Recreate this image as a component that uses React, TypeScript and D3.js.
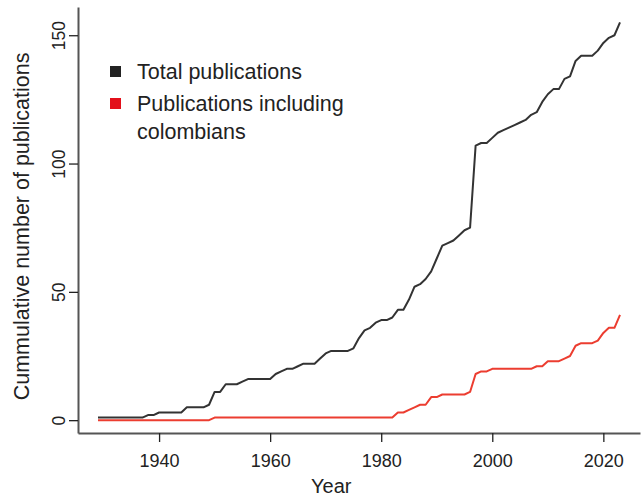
import React, { useEffect, useRef } from 'react';
import * as d3 from 'd3';

// yearly cumulative counts, 1929 to 2023
const years = d3.range(1929, 2024);

const totalPublications = [
  1, 1, 1, 1, 1, 1, 1, 1, 1, 2, // 1929-1938
  2, 3, 3, 3, 3, 3, 5, 5, 5, 5, // 1939-1948
  6, 11, 11, 14, 14, 14, 15, 16, 16, 16, // 1949-1958
  16, 16, 18, 19, 20, 20, 21, 22, 22, 22, // 1959-1968
  24, 26, 27, 27, 27, 27, 28, 32, 35, 36, // 1969-1978
  38, 39, 39, 40, 43, 43, 47, 52, 53, 55, // 1979-1988
  58, 63, 68, 69, 70, 72, 74, 75, 107, 108, // 1989-1998
  108, 110, 112, 113, 114, 115, 116, 117, 119, 120, // 1999-2008
  124, 127, 129, 129, 133, 134, 140, 142, 142, 142, // 2009-2018
  144, 147, 149, 150, 155, // 2019-2023
];

const colombianPublications = [
  0, 0, 0, 0, 0, 0, 0, 0, 0, 0, // 1929-1938
  0, 0, 0, 0, 0, 0, 0, 0, 0, 0, // 1939-1948
  0, 1, 1, 1, 1, 1, 1, 1, 1, 1, // 1949-1958
  1, 1, 1, 1, 1, 1, 1, 1, 1, 1, // 1959-1968
  1, 1, 1, 1, 1, 1, 1, 1, 1, 1, // 1969-1978
  1, 1, 1, 1, 3, 3, 4, 5, 6, 6, // 1979-1988
  9, 9, 10, 10, 10, 10, 10, 11, 18, 19, // 1989-1998
  19, 20, 20, 20, 20, 20, 20, 20, 20, 21, // 1999-2008
  21, 23, 23, 23, 24, 25, 29, 30, 30, 30, // 2009-2018
  31, 34, 36, 36, 41, // 2019-2023
];

const xTicks = [1940, 1960, 1980, 2000, 2020];
const yTicks = [0, 50, 100, 150];

const legendItems = [
  { lines: ['Total publications'], color: '#222222' },
  { lines: ['Publications including', 'colombians'], color: '#e3101b' },
];

const width = 644;
const height = 497;
const font = '"Liberation Sans", Arial, Helvetica, sans-serif';

const App = () => {
  const ref = useRef<SVGSVGElement>(null);

  useEffect(() => {
    const svg = d3.select(ref.current);
    svg.selectAll('*').remove();

    const x = d3.scaleLinear().domain([1925.4, 2026.6]).range([78, 640]);
    const y = d3.scaleLinear().domain([-5, 161]).range([433, 7]);

    // x axis
    const xAxis = svg.append('g')
      .attr('transform', 'translate(0,433)')
      .call(d3.axisBottom(x).tickValues(xTicks).tickFormat(d3.format('d')).tickSize(9).tickSizeOuter(0).tickPadding(12));
    xAxis.select('.domain').attr('stroke', '#555').attr('stroke-width', 2);
    xAxis.selectAll('.tick line').attr('stroke', '#222').attr('stroke-width', 1.3);
    xAxis.selectAll('.tick text')
      .attr('fill', '#222')
      .style('font-size', '18px')
      .style('font-family', font);

    // y axis with rotated labels
    const yAxis = svg.append('g')
      .attr('transform', 'translate(78,0)')
      .call(d3.axisLeft(y).tickValues(yTicks).tickSize(9).tickSizeOuter(0));
    yAxis.select('.domain').attr('stroke', '#555').attr('stroke-width', 2);
    yAxis.selectAll('.tick line').attr('stroke', '#222').attr('stroke-width', 1.3);
    yAxis.selectAll('.tick text')
      .attr('x', 0)
      .attr('y', -13)
      .attr('dy', 0)
      .attr('transform', 'rotate(-90)')
      .attr('text-anchor', 'middle')
      .attr('fill', '#222')
      .style('font-size', '17.5px')
      .style('font-family', font);

    // axis titles
    svg.append('text')
      .attr('x', x(1971))
      .attr('y', 493)
      .attr('text-anchor', 'middle')
      .attr('fill', '#222')
      .style('font-size', '20px')
      .style('font-family', font)
      .text('Year');

    svg.append('text')
      .attr('transform', `translate(29,${y(75.5)}) rotate(-90)`)
      .attr('text-anchor', 'middle')
      .attr('fill', '#222')
      .style('font-size', '21.5px')
      .style('font-family', font)
      .text('Cummulative number of publications');

    const line = d3.line<number>()
      .x((d, i) => x(years[i]))
      .y(d => y(d));

    svg.append('path')
      .datum(colombianPublications)
      .attr('fill', 'none')
      .attr('stroke', '#ec3d30')
      .attr('stroke-width', 2)
      .attr('stroke-linejoin', 'round')
      .attr('d', line);

    svg.append('path')
      .datum(totalPublications)
      .attr('fill', 'none')
      .attr('stroke', '#333333')
      .attr('stroke-width', 2)
      .attr('stroke-linejoin', 'round')
      .attr('d', line);

    // legend
    const legend = svg.append('g').attr('transform', 'translate(110,66)');
    legendItems.forEach((item, i) => {
      const g = legend.append('g').attr('transform', `translate(0,${i * 32})`);
      g.append('rect')
        .attr('width', 11)
        .attr('height', 11)
        .attr('fill', item.color);
      item.lines.forEach((t, j) => {
        g.append('text')
          .attr('x', 27)
          .attr('y', 13 + j * 28)
          .attr('fill', '#222')
          .style('font-size', '21.5px')
          .style('font-family', font)
          .text(t);
      });
    });
  }, []);

  return (
    <svg
      ref={ref}
      width={width}
      height={height}
      style={{ position: 'absolute', left: 0, top: 0, background: '#fff' }}
    />
  );
};

export default App;
